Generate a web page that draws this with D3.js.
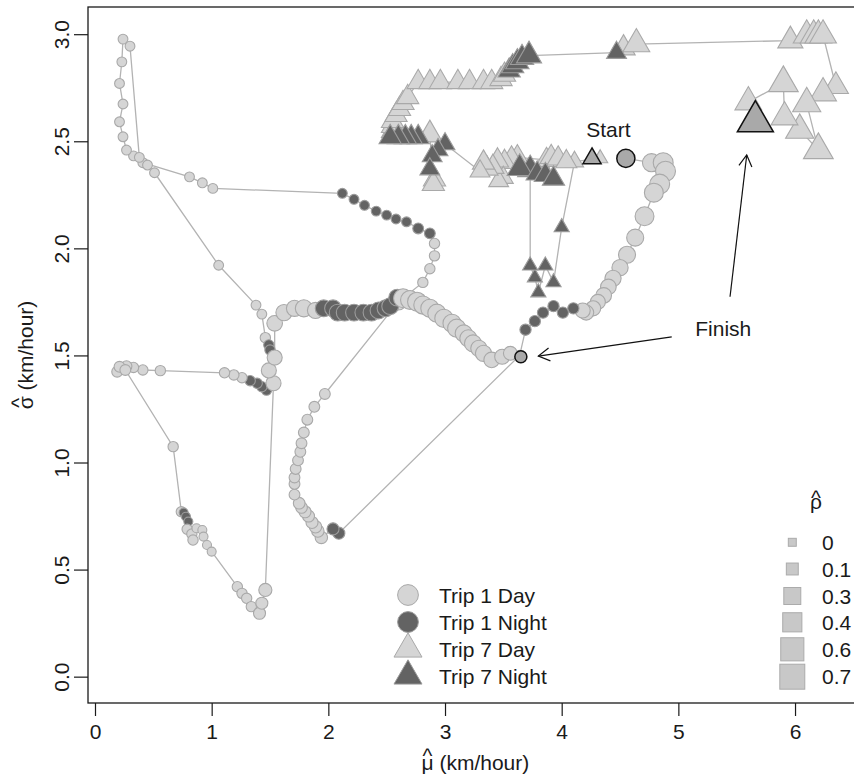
<!DOCTYPE html>
<html><head><meta charset="utf-8">
<script src="https://cdnjs.cloudflare.com/ajax/libs/d3/7.8.5/d3.min.js"></script>
<style>body{margin:0;background:#fff}text{font-family:"Liberation Sans",Arial,Helvetica,sans-serif;fill:#1a1a1a}</style>
</head><body><svg id="c" width="854" height="779"></svg>
<script>
// ---------- data ----------
const xTicks=[0,1,2,3,4,5,6];
const yTicks=[0,0.5,1,1.5,2,2.5,3];
const rhoLegend=[0,0.1,0.3,0.4,0.6,0.7];
const tripLabels=["Trip 1 Day","Trip 1 Night","Trip 7 Day","Trip 7 Night"];

// Trip 1 (circles), in travel order; first = Start, last = Finish
const t1Mu=[4.55,4.77,4.87,4.89,4.84,4.79,4.71,4.63,4.56,4.50,4.44,4.40,4.36,4.31,4.27,4.21,4.18,
 4.10,4.01,3.93,3.84,3.77,3.69,3.64,
 2.09,2.04,1.94,1.91,1.89,1.86,1.83,1.80,1.77,1.75,1.71,1.71,1.71,1.72,1.74,1.76,1.77,1.79,1.82,1.88,1.97,
 2.60,
 2.81,2.87,2.91,2.91,2.87,2.77,2.67,2.58,2.50,2.41,2.31,2.22,2.12,
 1.01,0.92,0.81,0.41,0.33,0.27,0.24,0.21,0.24,0.21,0.23,0.24,0.30,0.38,0.45,0.51,1.06,1.38,1.43,1.46,1.49,1.50,
 1.47,1.43,1.39,1.33,1.26,1.19,1.11,0.56,0.41,0.33,0.27,0.19,0.21,0.26,0.67,0.74,0.76,0.78,0.80,
 0.79,0.83,0.84,0.87,0.92,0.93,0.96,1.00,1.22,1.26,1.30,1.34,1.41,1.43,1.46,
 1.53,1.49,1.54,1.54,1.62,1.71,1.79,1.89,1.96,2.04,2.08,2.14,2.22,2.30,2.37,2.43,2.49,2.53,2.59,
 2.64,2.70,2.76,2.81,2.87,2.93,2.99,3.06,3.10,3.16,3.20,3.24,3.29,3.33,3.40,3.49,3.56,3.65];
const t1Sigma=[2.42,2.40,2.40,2.36,2.30,2.26,2.15,2.05,1.97,1.91,1.86,1.82,1.78,1.75,1.72,1.70,1.71,
 1.72,1.70,1.73,1.70,1.66,1.62,1.50,
 0.67,0.69,0.65,0.68,0.70,0.72,0.75,0.77,0.79,0.81,0.85,0.90,0.93,0.97,1.01,1.05,1.09,1.14,1.20,1.26,1.32,
 1.75,
 1.841,1.905,1.965,2.023,2.07,2.093,2.124,2.137,2.155,2.174,2.201,2.229,2.257,
 2.28,2.306,2.334,2.40,2.432,2.459,2.521,2.591,2.674,2.770,2.871,2.977,2.944,2.425,2.389,2.353,1.921,1.735,1.693,1.583,1.549,1.525,
 1.338,1.354,1.37,1.382,1.396,1.409,1.419,1.429,1.432,1.444,1.45,1.424,1.447,1.432,1.074,0.77,0.766,0.747,0.724,
 0.688,0.666,0.638,0.693,0.685,0.654,0.615,0.584,0.42,0.389,0.366,0.327,0.296,0.343,0.405,
 1.37,1.43,1.49,1.65,1.70,1.72,1.72,1.71,1.72,1.72,1.70,1.70,1.70,1.70,1.70,1.71,1.72,1.73,1.77,
 1.767,1.759,1.751,1.735,1.72,1.697,1.673,1.65,1.627,1.603,1.58,1.556,1.533,1.51,1.479,1.494,1.51,1.494];
const t1Rho=[.26,.26,.33,.33,.33,.29,.29,.22,.22,.19,.19,.17,.17,.15,.15,.15,.15,
 .04,.04,.04,.04,.04,.04,.02,
 .06,.06,.07,.07,.07,.06,.06,.06,.05,.05,.03,.03,.03,.03,.03,.03,.03,.03,.03,.03,.03,
 .19,
 .02,.02,.02,.02,.03,.03,.01,.01,.01,.01,.01,.01,.01,
 .01,.01,.01,.01,.01,.01,.01,.01,.01,.01,.01,.01,.01,.01,.01,.01,.01,.01,.01,.02,.02,.02,
 .02,.02,.02,.02,.02,.02,.02,.02,.02,.02,.03,.03,.03,.03,.02,.02,0,0,0,
 .02,.02,.02,0,0,0,0,0,.02,.02,.02,.02,.06,.06,.09,
 .15,.15,.15,.17,.19,.19,.22,.19,.21,.21,.21,.21,.21,.21,.21,.21,.21,.21,.21,
 .29,.29,.29,.26,.26,.26,.26,.26,.26,.22,.22,.22,.19,.19,.17,.15,.11,.06];
const t1Night=[0,0,0,0,0,0,0,0,0,0,0,0,0,0,0,0,0,
 1,1,1,1,1,1,0,
 1,1,0,0,0,0,0,0,0,0,0,0,0,0,0,0,0,0,0,0,0,
 0,
 0,0,0,0,1,1,1,1,1,1,1,1,1,
 0,0,0,0,0,0,0,0,0,0,0,0,0,0,0,0,0,0,0,0,1,1,
 1,1,1,1,0,0,0,0,0,0,0,0,0,0,0,0,1,1,1,
 0,0,0,0,0,0,0,0,0,0,0,0,0,0,0,
 0,0,0,0,0,0,0,0,1,1,1,1,1,1,1,1,1,1,1,
 0,0,0,0,0,0,0,0,0,0,0,0,0,0,0,0,0,0];

// Trip 7 (triangles), in travel order; first = Start, last = Finish
const t7Mu=[4.26,4.33,4.11,4.00,3.93,3.86,3.80,3.77,3.73,
 3.73,3.64,3.79,3.86,3.93,3.87,3.91,3.97,4.04,3.62,3.57,3.51,3.45,3.50,3.46,3.41,3.36,3.33,3.30,
 3.00,2.94,2.89,2.87,2.91,2.90,2.87,
 2.77,2.71,2.66,2.60,2.53,
 2.55,2.55,2.55,2.58,2.61,2.64,2.68,
 2.77,2.87,2.96,3.11,3.21,3.33,3.40,
 3.48,3.51,3.55,3.58,3.62,3.66,3.72,
 4.47,4.53,4.64,
 5.96,6.10,6.16,6.20,6.24,
 6.35,6.24,6.10,6.20,6.04,5.91,5.90,5.60,5.66];
const t7Sigma=[2.42,2.42,2.405,2.098,1.841,1.919,1.794,1.864,1.919,
 2.368,2.374,2.349,2.342,2.325,2.412,2.426,2.419,2.405,2.425,2.419,2.403,2.41,2.33,2.315,2.38,2.372,2.40,2.36,
 2.487,2.46,2.431,2.37,2.321,2.30,2.531,
 2.519,2.519,2.519,2.519,2.519,
 2.548,2.571,2.594,2.622,2.65,2.678,2.706,
 2.776,2.776,2.776,2.776,2.776,2.776,2.776,
 2.79,2.81,2.83,2.85,2.87,2.89,2.90,
 2.914,2.935,2.954,
 2.97,2.995,2.995,2.995,2.995,
 2.757,2.725,2.676,2.459,2.552,2.613,2.772,2.683,2.593];
const t7Rho=[.10,.04,.10,.04,.04,.04,.04,.04,.04,
 .28,.28,.20,.20,.20,.20,.20,.20,.17,.20,.20,.20,.20,.14,.14,.20,.20,.20,.14,
 .14,.14,.14,.14,.20,.20,.28,
 .20,.20,.20,.20,.20,
 .20,.20,.20,.20,.20,.20,.20,
 .20,.20,.20,.20,.20,.20,.20,
 .20,.20,.20,.20,.23,.23,.28,
 .14,.23,.33,
 .28,.33,.33,.33,.33,
 .28,.33,.37,.42,.37,.33,.42,.33,.63];
const t7Night=[0,0,0,1,1,1,1,1,1,
 1,1,1,1,1,0,0,0,0,0,0,0,0,0,0,0,0,0,0,
 1,1,1,1,0,0,0,
 1,1,1,1,1,
 0,0,0,0,0,0,0,
 0,0,0,0,0,0,0,
 0,0,1,1,1,1,1,
 1,0,0,
 0,0,0,0,0,
 0,0,0,0,0,0,0,0,0];

// annotations (data units)
const startLabel={mu:4.40,sigma:2.553,text:"Start"};
const finishLabel={mu:5.385,sigma:1.628,text:"Finish"};
const arrowsData=[{from:[4.943,1.587],to:[3.80,1.497]},{from:[5.443,1.774],to:[5.586,2.436]}];

// ---------- drawing ----------
const svg=d3.select("#c");
const pL=88,pR=862.7,pT=7,pB=703;
const x=d3.scaleLinear().domain([-0.06,6.58]).range([pL,pR]);
const y=d3.scaleLinear().domain([-0.123,3.127]).range([pB,pT]);
const rad=d3.scalePow().exponent(0.75).domain([0,0.7]).range([4.5,14.1]);
const LIGHT="#d5d5d5",LIGHTS="#a9a9a9",DARK="#636363",DARKS="#9c9c9c",MARK="#a9a9a9";
const FS=21;

function tri(r){const a=1.555*r,b=1.347*r,c=0.778*r;return `M0,${-a}L${b},${c}L${-b},${c}Z`;}
const mk=(mu,s,r,n)=>mu.map((m,i)=>({mu:m,sigma:s[i],rho:r[i],night:n[i]}));
const trip1=mk(t1Mu,t1Sigma,t1Rho,t1Night);
const trip7=mk(t7Mu,t7Sigma,t7Rho,t7Night);

const line=d3.line().x(d=>x(d.mu)).y(d=>y(d.sigma));
const g=svg.append("g");
[trip7,trip1].forEach(t=>g.append("path").datum(t).attr("d",line)
  .attr("fill","none").attr("stroke","#b3b3b3").attr("stroke-width",1.3));

// trip 7 triangles: day first, night over
const t7mid=trip7.slice(1,-1);
g.selectAll("path.t7").data(t7mid.filter(d=>!d.night).concat(t7mid.filter(d=>d.night))).join("path")
  .attr("class","t7").attr("transform",d=>`translate(${x(d.mu)},${y(d.sigma)})`)
  .attr("d",d=>tri(rad(d.rho))).attr("fill",d=>d.night?DARK:LIGHT)
  .attr("stroke",d=>d.night?DARKS:LIGHTS).attr("stroke-width",1.1);
// trip 1 circles in order
g.selectAll("circle.t1").data(trip1.slice(1,-1)).join("circle")
  .attr("class","t1").attr("cx",d=>x(d.mu)).attr("cy",d=>y(d.sigma)).attr("r",d=>rad(d.rho))
  .attr("fill",d=>d.night?DARK:LIGHT).attr("stroke",d=>d.night?DARKS:LIGHTS).attr("stroke-width",1.1);

// start / finish markers
[trip1[0],trip1[trip1.length-1]].forEach(d=>g.append("circle").attr("cx",x(d.mu)).attr("cy",y(d.sigma))
  .attr("r",rad(d.rho)).attr("fill",MARK).attr("stroke","#111").attr("stroke-width",1.5));
[trip7[0],trip7[trip7.length-1]].forEach(d=>g.append("path").attr("transform",`translate(${x(d.mu)},${y(d.sigma)})`)
  .attr("d",tri(rad(d.rho))).attr("fill",MARK).attr("stroke","#111").attr("stroke-width",1.5));

// annotations
[startLabel,finishLabel].forEach(a=>svg.append("text").attr("x",x(a.mu)).attr("y",y(a.sigma)+7.5)
  .attr("text-anchor","middle").attr("font-size",FS).text(a.text));
arrowsData.forEach(a=>{
  const x1=x(a.from[0]),y1=y(a.from[1]),x2=x(a.to[0]),y2=y(a.to[1]);
  const ang=Math.atan2(y2-y1,x2-x1),L=13,sp=Math.PI/6;
  svg.append("line").attr("x1",x1).attr("y1",y1).attr("x2",x2).attr("y2",y2).attr("stroke","#111").attr("stroke-width",1.2);
  svg.append("path").attr("d",`M${x2-L*Math.cos(ang-sp)},${y2-L*Math.sin(ang-sp)}L${x2},${y2}L${x2-L*Math.cos(ang+sp)},${y2-L*Math.sin(ang+sp)}`)
    .attr("fill","none").attr("stroke","#111").attr("stroke-width",1.2);
});

// box
svg.append("rect").attr("x",pL).attr("y",pT).attr("width",pR-pL).attr("height",pB-pT)
  .attr("fill","none").attr("stroke","#1a1a1a").attr("stroke-width",1.3);

// axes
const xa=svg.append("g").attr("transform",`translate(0,${pB})`)
  .call(d3.axisBottom(x).tickValues(xTicks).tickSize(13).tickPadding(8).tickFormat(d3.format("d")));
xa.select(".domain").remove();
xa.selectAll("line").attr("stroke","#1a1a1a").attr("stroke-width",1.2);
xa.selectAll("text").attr("font-size",FS).attr("fill","#1a1a1a").attr("font-family","Liberation Sans, Arial, sans-serif");
const ya=svg.append("g").attr("transform",`translate(${pL},0)`)
  .call(d3.axisLeft(y).tickValues(yTicks).tickSize(14).tickFormat(d3.format(".1f")));
ya.select(".domain").remove();
ya.selectAll("line").attr("stroke","#1a1a1a").attr("stroke-width",1.2);
ya.selectAll("text").attr("font-size",FS).attr("fill","#1a1a1a").attr("font-family","Liberation Sans, Arial, sans-serif")
  .attr("x",null).attr("dy",null).attr("text-anchor","middle").attr("transform","translate(-19,0) rotate(-90)");

// label with a circumflex "hat" over its first (Greek) letter
function hatText(parent,letter,rest,tx,ty,rot,hatLift){
  const grp=parent.append("g").attr("transform",`translate(${tx},${ty})${rot?" rotate(-90)":""}`);
  const t=grp.append("text").attr("x",0).attr("y",0).attr("text-anchor","middle").attr("font-size",FS).text(letter+rest);
  const e=t.node().getExtentOfChar(0);
  grp.append("text").attr("x",e.x+e.width/2).attr("y",-hatLift).attr("text-anchor","middle")
    .attr("font-size",FS).text("^");
}
hatText(svg,"\u03BC"," (km/hour)",(pL+pR)/2,770,false,7);
hatText(svg,"\u03C3"," (km/hour)",33,(pT+pB)/2,true,7);

// trip legend
const legY=[595,622,649,676],legX=408;
tripLabels.forEach((t,i)=>{
  const fill=i%2?DARK:LIGHT, r=10.4;
  if(i<2) svg.append("circle").attr("cx",legX).attr("cy",legY[i]).attr("r",r).attr("fill",fill).attr("stroke",i%2?DARKS:LIGHTS);
  else svg.append("path").attr("transform",`translate(${legX},${legY[i]})`).attr("d",tri(r)).attr("fill",fill).attr("stroke",i%2?DARKS:LIGHTS);
  svg.append("text").attr("x",439).attr("y",legY[i]+7.5).attr("font-size",FS).text(t);
});

// rho legend
hatText(svg,"\u03C1","",816,509,false,4.5);
const rY=[542.3,569,596,622.3,649.3,676.7];
rhoLegend.forEach((v,i)=>{
  const s=1.772*rad(v);
  svg.append("rect").attr("x",792.3-s/2).attr("y",rY[i]-s/2).attr("width",s).attr("height",s)
    .attr("fill","#c8c8c8").attr("stroke","#ababab");
  svg.append("text").attr("x",822).attr("y",rY[i]+7.5).attr("font-size",FS).text(String(v));
});
</script></body></html>
